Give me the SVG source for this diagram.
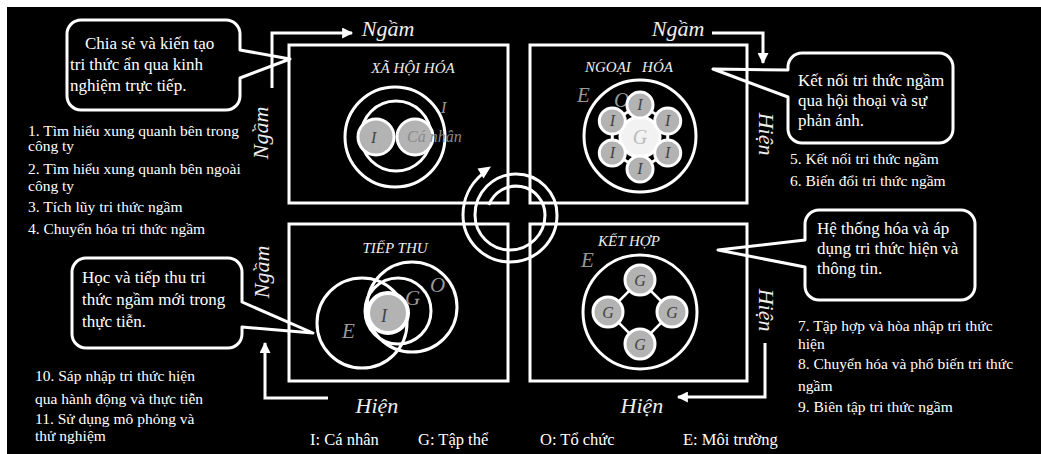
<svg xmlns="http://www.w3.org/2000/svg" width="1041" height="454" viewBox="0 0 1041 454">
<defs>
<style>
.bg{fill:#000}
.box{fill:none;stroke:#fff;stroke-width:3}
.ring{fill:none;stroke:#fff;stroke-width:3}
.sc{fill:#b3b3b3;stroke:#fff;stroke-width:3}
.bub{fill:#000;stroke:#fff;stroke-width:3;stroke-linejoin:round}
.ln{stroke:#fff;stroke-width:3;fill:none}
.conn{stroke:#fff;stroke-width:3;fill:none}
text{font-family:"Liberation Serif","Times New Roman",serif}
.side{font-size:22px;font-style:italic;fill:#eee}
.title{font-size:15px;font-style:italic;fill:#eee}
.gl{font-size:21px;font-style:italic;fill:#999}
.dk{font-size:16px;font-style:italic;fill:#444}
.bt{font-size:17px;fill:#fff}
.li{font-size:15.5px;fill:#fff}
.lg{font-size:16.5px;fill:#fff}
</style>
<marker id="ah" viewBox="0 0 10 10" refX="9" refY="5" markerWidth="12" markerHeight="11" markerUnits="userSpaceOnUse" orient="auto">
<path d="M0,0 L10,5 L0,10 z" fill="#fff"/>
</marker>
</defs>
<rect x="0" y="0" width="1041" height="454" fill="#fff"/>
<rect class="bg" x="7" y="7" width="1034" height="447"/>

<g id="bubble-tl">
<path class="bub" d="M81,20 H226 A14 14 0 0 1 240 34 V50 L290,59 L240,78 V96 A14 14 0 0 1 226 110 H81 A14 14 0 0 1 67 96 V34 A14 14 0 0 1 81 20 Z"/>
<text class="bt" x="85" y="49">Chia sẻ và kiến tạo</text>
<text class="bt" x="70" y="70">tri thức ẩn qua kinh</text>
<text class="bt" x="70" y="91">nghiệm trực tiếp.</text>
</g>
<g id="bubble-tr">
<path class="bub" d="M802,53 H939 A14 14 0 0 1 953 67 V129 A14 14 0 0 1 939 143 H802 A14 14 0 0 1 788 129 V97 L713,69 L788,70 V67 A14 14 0 0 1 802 53 Z"/>
<text class="bt" x="798" y="86">Kết nối tri thức ngầm</text>
<text class="bt" x="798" y="106">qua hội thoại và sự</text>
<text class="bt" x="798" y="126">phản ánh.</text>
</g>
<g id="bubble-br">
<path class="bub" d="M819,210 H961 A14 14 0 0 1 975 224 V286 A14 14 0 0 1 961 300 H819 A14 14 0 0 1 805 286 V267 L718,250 L805,240 V224 A14 14 0 0 1 819 210 Z"/>
<text class="bt" x="817" y="234">Hệ thống hóa và áp</text>
<text class="bt" x="817" y="254">dụng tri thức hiện và</text>
<text class="bt" x="817" y="274">thông tin.</text>
</g>
<g id="bubble-bl">
<path class="bub" d="M86,258 H228 A14 14 0 0 1 242 272 V302 L313,333 L242,327 V334 A14 14 0 0 1 228 348 H86 A14 14 0 0 1 72 334 V272 A14 14 0 0 1 86 258 Z"/>
<text class="bt" x="82" y="283">Học và tiếp thu tri</text>
<text class="bt" x="82" y="305">thức ngầm mới trong</text>
<text class="bt" x="82" y="327">thực tiễn.</text>
</g>

<g id="socialization">
<rect class="box" x="289" y="45" width="219" height="158"/>
<text class="title" x="413" y="73" text-anchor="middle">XÃ HỘI HÓA</text>
<circle class="ring" cx="395" cy="137" r="50"/>
<circle class="ring" cx="396" cy="136" r="35"/>
<circle class="sc" cx="376" cy="137" r="18"/>
<circle class="sc" cx="415" cy="137" r="18"/>
<text class="dk" x="371" y="143">I</text>
<text x="407" y="142" style="font-size:16px;font-style:italic;fill:#8a8a8a">Cá nhân</text>
<text x="441" y="113" style="font-size:16px;font-style:italic;fill:#999">I</text>
</g>

<g id="externalization">
<rect class="box" x="530" y="45" width="217" height="158"/>
<text class="title" x="585" y="72" xml:space="preserve">NGOẠI   HÓA</text>
<text class="gl" x="577" y="102">E</text>
<text class="gl" x="614" y="107">O</text>
<circle class="ring" cx="640" cy="136" r="56"/>
<polygon class="ln" points="640,105 667.7,121 667.7,153 640,169 612.3,153 612.3,121"/>
<path class="ln" d="M640,137 L640,105 M640,137 L667.7,121 M640,137 L667.7,153 M640,137 L640,169 M640,137 L612.3,153 M640,137 L612.3,121"/>
<circle cx="640" cy="137" r="20" fill="#f2f2f2" stroke="#fff" stroke-width="3"/>
<text x="640" y="144" text-anchor="middle" style="font-size:20px;font-style:italic;fill:#bbb">G</text>
<circle class="sc" cx="640" cy="105" r="13"/>
<circle class="sc" cx="667.7" cy="121" r="13"/>
<circle class="sc" cx="667.7" cy="153" r="13"/>
<circle class="sc" cx="640" cy="169" r="13"/>
<circle class="sc" cx="612.3" cy="153" r="13"/>
<circle class="sc" cx="612.3" cy="121" r="13"/>
<text class="dk" x="640" y="110" text-anchor="middle">I</text>
<text class="dk" x="667.7" y="126" text-anchor="middle">I</text>
<text class="dk" x="667.7" y="158" text-anchor="middle">I</text>
<text class="dk" x="640" y="174" text-anchor="middle">I</text>
<text class="dk" x="612.3" y="158" text-anchor="middle">I</text>
<text class="dk" x="612.3" y="126" text-anchor="middle">I</text>
</g>

<g id="internalization">
<rect class="box" x="289" y="224" width="219" height="157"/>
<text class="title" x="395" y="253" text-anchor="middle">TIẾP THU</text>
<circle class="ring" cx="362" cy="323" r="45"/>
<circle class="ring" cx="412" cy="307" r="45"/>
<circle class="ring" cx="398" cy="311" r="33"/>
<circle cx="388" cy="313" r="20" fill="#b3b3b3" stroke="#fff" stroke-width="4"/>
<text class="gl" x="342" y="338">E</text>
<text class="dk" x="381" y="322" style="font-size:18px">I</text>
<text class="gl" x="405" y="305">G</text>
<text class="gl" x="430" y="292">O</text>
</g>

<g id="combination">
<rect class="box" x="530" y="224" width="217" height="157"/>
<text class="title" x="598" y="246">KẾT HỢP</text>
<text class="gl" x="581" y="267">E</text>
<circle class="ring" cx="640" cy="312" r="57"/>
<polygon class="ln" points="640,280 672,312 640,344 608,312" style="stroke-width:2.5"/>
<circle class="sc" cx="640" cy="280" r="15"/>
<circle class="sc" cx="608" cy="312" r="15"/>
<circle class="sc" cx="672" cy="312" r="15"/>
<circle class="sc" cx="640" cy="344" r="15"/>
<text class="dk" x="640" y="286" text-anchor="middle">G</text>
<text class="dk" x="608" y="318" text-anchor="middle">G</text>
<text class="dk" x="672" y="318" text-anchor="middle">G</text>
<text class="dk" x="640" y="350" text-anchor="middle">G</text>
</g>

<g id="spiral">
<path class="ring" d="M488.8,205.1 A29 29 0 0 1 545 215 A35 35 0 0 1 475 215 A41 41 0 0 1 557 215 A47 47 0 0 1 463 215 A53 53 0 0 1 481.9 174.4"/>
<polygon points="491,166.5 483.5,178.5 477.5,168.5" fill="#fff"/>
</g>

<g id="connectors">
<path class="conn" marker-end="url(#ah)" d="M272,88 V33 H352"/>
<path class="conn" marker-end="url(#ah)" d="M712,33 H763 V63"/>
<path class="conn" marker-end="url(#ah)" d="M765,343 V397 H678"/>
<path class="conn" marker-end="url(#ah)" d="M328,398 H265 V343"/>
</g>

<g id="side-labels">
<text class="side" x="388" y="36" text-anchor="middle">Ngầm</text>
<text class="side" x="678" y="36" text-anchor="middle">Ngầm</text>
<text class="side" x="377" y="413" text-anchor="middle">Hiện</text>
<text class="side" x="642" y="413" text-anchor="middle">Hiện</text>
<text class="side" text-anchor="middle" transform="translate(268,133) rotate(-90)">Ngầm</text>
<text class="side" text-anchor="middle" transform="translate(269,272) rotate(-90)">Ngầm</text>
<text class="side" text-anchor="middle" transform="translate(759,134) rotate(90)">Hiện</text>
<text class="side" text-anchor="middle" transform="translate(759,310) rotate(90)">Hiện</text>
</g>

<g id="lists">
<text class="li" x="28" y="136">1. Tìm hiểu xung quanh bên trong</text>
<text class="li" x="28" y="151">công ty</text>
<text class="li" x="28" y="174">2. Tìm hiểu xung quanh bên ngoài</text>
<text class="li" x="28" y="191">công ty</text>
<text class="li" x="28" y="212">3. Tích lũy tri thức ngầm</text>
<text class="li" x="28" y="234">4. Chuyển hóa tri thức ngầm</text>
<text class="li" x="790" y="164">5. Kết nối tri thức ngầm</text>
<text class="li" x="790" y="186">6. Biến đổi tri thức ngầm</text>
<text class="li" x="798" y="331">7. Tập hợp và hòa nhập tri thức</text>
<text class="li" x="798" y="349">hiện</text>
<text class="li" x="798" y="369">8. Chuyển hóa và phổ biến tri thức</text>
<text class="li" x="798" y="391">ngầm</text>
<text class="li" x="798" y="412">9. Biên tập tri thức ngầm</text>
<text class="li" x="35" y="381">10. Sáp nhập tri thức hiện</text>
<text class="li" x="35" y="404">qua hành động và thực tiễn</text>
<text class="li" x="35" y="424">11. Sử dụng mô phỏng và</text>
<text class="li" x="35" y="441">thử nghiệm</text>
</g>

<g id="legend">
<text class="lg" x="310" y="445">I: Cá nhân</text>
<text class="lg" x="418" y="445">G: Tập thể</text>
<text class="lg" x="540" y="445">O: Tổ chức</text>
<text class="lg" x="683" y="445">E: Môi trường</text>
</g>
</svg>
